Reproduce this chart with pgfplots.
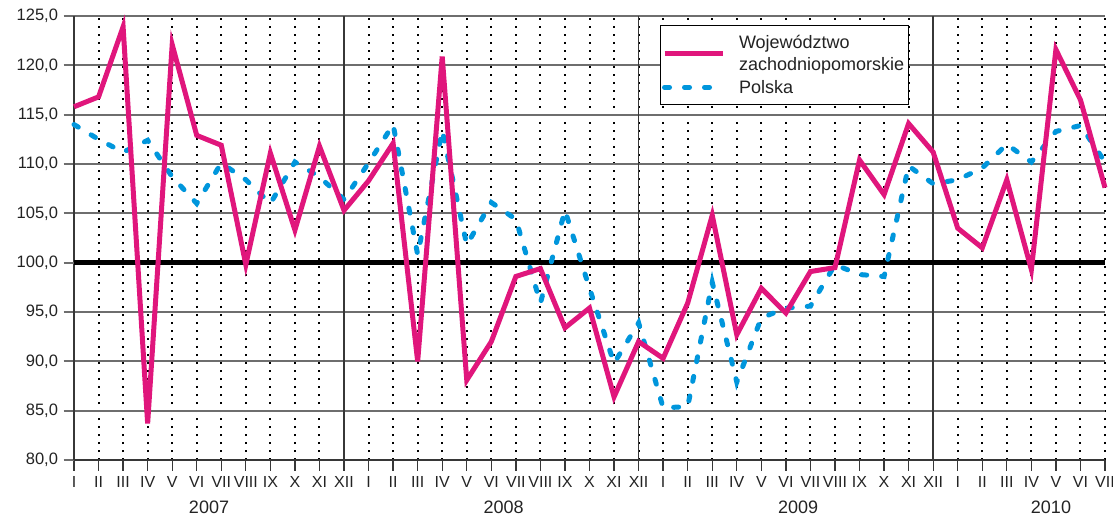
\documentclass[border=0pt]{standalone}
\usepackage{fontspec}
\setmainfont{Liberation Sans}
\usepackage{pgfplots}
\pgfplotsset{compat=1.18}
\definecolor{woj}{RGB}{224,22,124}
\definecolor{pol}{RGB}{0,150,220}
\definecolor{gridgray}{RGB}{110,110,110}
\definecolor{axisgray}{RGB}{55,55,55}
\definecolor{txt}{RGB}{35,35,35}

\begin{document}
\begin{tikzpicture}
\begin{axis}[
  scale only axis, width=1031pt, height=444pt,
  xmin=0, xmax=42, ymin=80, ymax=125,
  clip=false,
  axis x line*=bottom, axis y line*=left,
  axis line style={-, draw=axisgray, line width=1.6pt},
  xtick={0,...,42},
  xticklabels={I,II,III,IV,V,VI,VII,VIII,IX,X,XI,XII,
               I,II,III,IV,V,VI,VII,VIII,IX,X,XI,XII,
               I,II,III,IV,V,VI,VII,VIII,IX,X,XI,XII,
               I,II,III,IV,V,VI,VII},
  ytick={80,85,90,95,105,110,115,120,125},
  every axis grid/.style={},
  major grid style={},
  extra y ticks={100},
  extra y tick style={
    every axis y grid/.style={black, line width=5pt},
    tick style={black, line width=5pt}},
  extra x ticks={11,23,35},
  extra x tick labels={},
  extra x tick style={
    every axis x grid/.style={solid, draw=axisgray, line width=1.7pt}},
  xmajorgrids, ymajorgrids,
  every axis y grid/.style={gridgray, line width=2.2pt},
  every axis x grid/.style={black, line width=2pt, dash pattern=on 2pt off 6pt},
  tick align=outside, major tick length=10.5pt,
  x tick style={axisgray, line width=1.3pt},
  y tick style={gridgray, line width=2.2pt},
  xticklabel style={font=\fontsize{16}{18}\selectfont, text=txt, inner sep=2pt, yshift=-4pt},
  yticklabel style={font=\fontsize{16.5}{19}\selectfont, text=txt, xshift=-2pt},
  /pgf/number format/.cd, fixed, fixed zerofill, precision=1, use comma,
    1000 sep={}, assume math mode=true,
  /pgfplots/.cd,
  reverse legend,
  legend image code/.code={\draw[#1] (0pt,0pt) -- (58pt,0pt);},
  legend style={at={(0.568,0.98)}, anchor=north west, draw=black,
    line width=0.8pt, fill=white, inner xsep=2pt, inner ysep=8pt,
    font=\fontsize{18}{22}\selectfont, text=txt,
    cells={align=left, anchor=west}, row sep=4pt, column sep=12pt},
]
\addplot[pol, line width=5pt, line cap=round, dash pattern=on 5pt off 15pt]
  coordinates {
  (0,114.0) (1,112.5) (2,111.2) (3,112.4) (4,108.7) (5,106.0) (6,110.1)
  (7,108.4) (8,106.0) (9,110.2) (10,108.7) (11,106.4)
  (12,110.1) (13,114.0) (14,100.8) (15,113.4) (16,101.8) (17,106.1)
  (18,104.4) (19,95.9) (20,105.3) (21,97.4) (22,89.8) (23,93.9)
  (24,85.3) (25,85.4) (26,98.0) (27,87.9) (28,94.4) (29,95.4)
  (30,95.6) (31,99.8) (32,98.8) (33,98.6) (34,109.8) (35,108.0)
  (36,108.4) (37,109.6) (38,112.0) (39,110.2) (40,113.3) (41,113.9) (42,110.2)
  };
\addlegendentry{Polska}
\addplot[woj, line width=5pt]
  coordinates {
  (0,115.8) (1,116.8) (2,123.9) (3,83.7) (4,122.1) (5,112.9) (6,111.9)
  (7,99.8) (8,111.1) (9,103.3) (10,111.8) (11,105.3)
  (12,108.3) (13,112.1) (14,90.0) (15,120.9) (16,88.1) (17,92.0)
  (18,98.6) (19,99.4) (20,93.4) (21,95.4) (22,86.4) (23,92.0)
  (24,90.3) (25,95.9) (26,104.8) (27,92.7) (28,97.4) (29,94.9)
  (30,99.1) (31,99.5) (32,110.4) (33,106.9) (34,114.1) (35,111.2)
  (36,103.5) (37,101.5) (38,108.4) (39,99.3) (40,121.6) (41,116.5) (42,107.6)
  };
\addlegendentry{Województwo\\zachodniopomorskie}
\node[font=\fontsize{18}{20}\selectfont, text=txt, yshift=-47pt] at (axis cs:5.5,80) {2007};
\node[font=\fontsize{18}{20}\selectfont, text=txt, yshift=-47pt] at (axis cs:17.5,80) {2008};
\node[font=\fontsize{18}{20}\selectfont, text=txt, yshift=-47pt] at (axis cs:29.5,80) {2009};
\node[font=\fontsize{18}{20}\selectfont, text=txt, yshift=-47pt] at (axis cs:39.8,80) {2010};
\end{axis}
\pgfresetboundingbox
\path ([shift={(-74pt,-56pt)}]current axis.south west) rectangle ([shift={(8pt,16pt)}]current axis.north east);
\end{tikzpicture}
\end{document}
